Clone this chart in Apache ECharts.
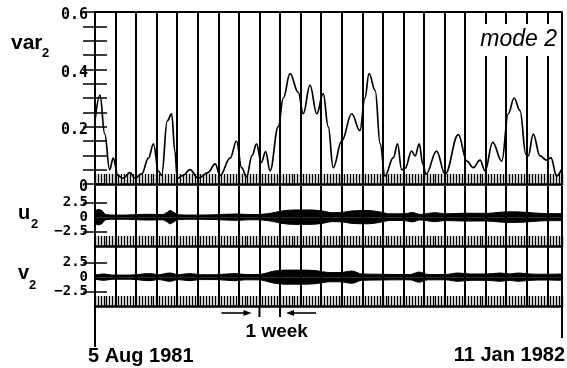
<!DOCTYPE html>
<html>
<head>
<meta charset="utf-8">
<script src="https://cdn.jsdelivr.net/npm/echarts@6/dist/echarts.min.js"></script>
<style>
  html, body { margin: 0; padding: 0; background: #fff; }
  #chart { width: 567px; height: 368px; }
</style>
</head>
<body>
<div id="chart"></div>
<script>
// Time axis in days after 5 Aug 1981 (day 0) up to 11 Jan 1982 (day 159)
const spanDays = 159;
const weekDays = 7;
const startLabel = '5 Aug 1981';
const endLabel = '11 Jan 1982';
const weekMarkStart = 56;
const weekMarkEnd = 63;

// Variance of mode 2
const varDays = [0, 1.7, 3.3, 5.0, 6.2, 7.8, 9.5, 11.9, 13.6, 15.9, 18.2, 19.9, 21.6, 22.7, 24.6, 26.1, 27.2, 28.0, 30.0, 32.3,
  35.2, 38.5, 40.9, 42.6, 46.0, 48.2, 49.9, 51.6, 53.5, 55.0, 56.6, 58.1, 59.6, 62.4, 64.1, 66.4, 69.2, 70.9, 73.2, 75.5,
  77.7, 79.4, 81.1, 84.0, 87.4, 90.2, 91.9, 93.3, 95.4, 97.1, 98.7, 101.6, 103.0, 104.4, 105.6, 107.8, 109.0, 110.4, 111.6, 112.7,
  116.3, 119.2, 123.7, 126.6, 128.8, 131.1, 132.8, 135.4, 138.5, 140.7, 142.7, 144.7, 146.7, 147.5, 149.2, 151.5, 153.8, 155.2, 157.2, 158.8];
const varValues = [0.22, 0.31, 0.175, 0.05, 0.09, 0.03, 0.02, 0.04, 0.02, 0.035, 0.09, 0.14, 0.045, 0.03, 0.22, 0.245, 0.115, 0.02, 0.03, 0.05,
  0.02, 0.04, 0.07, 0.03, 0.09, 0.15, 0.057, 0.025, 0.1, 0.14, 0.075, 0.113, 0.046, 0.2, 0.30, 0.385, 0.32, 0.245, 0.345, 0.245,
  0.315, 0.2, 0.057, 0.15, 0.245, 0.186, 0.30, 0.385, 0.326, 0.14, 0.028, 0.092, 0.14, 0.05, 0.055, 0.115, 0.098, 0.14, 0.07, 0.034,
  0.115, 0.034, 0.172, 0.08, 0.057, 0.083, 0.046, 0.145, 0.08, 0.245, 0.30, 0.256, 0.104, 0.098, 0.174, 0.098, 0.083, 0.092, 0.028, 0.05];

// Envelope half-width of u2
const uDays = [0, 1, 2.4, 3.7, 6.8, 10.2, 14.3, 18.7, 22.8, 24.5, 25.5, 26.9, 28.3, 34, 40.9, 48.3, 52.8, 56.9, 60.3, 63.7,
  68.1, 73.2, 77.3, 80.7, 84.1, 87.5, 93, 97, 100.4, 105.5, 107.9, 110.7, 115.8, 119.2, 126, 133.5, 137.9, 142, 146.4, 151.5, 159];
const uAmp = [0.95, 1.35, 1.1, 0.45, 0.36, 0.36, 0.45, 0.5, 0.45, 0.8, 1.15, 0.8, 0.42, 0.36, 0.42, 0.55, 0.45, 0.5, 0.72, 1.08,
  1.25, 1.25, 1.08, 0.78, 0.82, 1.08, 1.15, 0.9, 0.58, 0.58, 0.82, 0.48, 0.78, 0.58, 0.68, 0.66, 0.85, 0.92, 0.85, 0.66, 0.6];

// Envelope half-width of v2
const vDays = [0, 3.1, 5.8, 11.9, 18.7, 21.5, 25.5, 28.3, 32.3, 35.8, 40.9, 47.7, 51.1, 55.5, 57.9, 60.3, 64.7, 69.8, 74.9, 80,
  83.4, 87.5, 90.9, 97, 103.8, 107.3, 110.3, 113.4, 119.2, 123.6, 127.7, 133.5, 137.9, 141.3, 144, 148.1, 153.2, 159];
const vAmp = [0.36, 0.55, 0.36, 0.36, 0.62, 0.42, 0.72, 0.42, 0.62, 0.42, 0.42, 0.62, 0.46, 0.46, 0.64, 0.98, 1.22, 1.22, 1.14, 0.8,
  0.8, 1.06, 0.55, 0.5, 0.46, 0.46, 0.88, 0.46, 0.46, 0.72, 0.55, 0.55, 0.72, 0.55, 0.72, 0.55, 0.5, 0.55];

// Tick labels
const varTickLabels = [0, 0.2, 0.4, 0.6];
const varTickStep = 0.05;
const uvTickLabels = [-2.5, 0, 2.5];
const uvTickMarks = [-2.5, 2.5];

const INK = '#000';
const monoFamily = '"DejaVu Sans Mono", monospace';
const varTickFont = { fontFamily: monoFamily, fontWeight: 'bold', fontSize: 15, color: INK };
const uvTickFont = { fontFamily: monoFamily, fontWeight: 'bold', fontSize: 14, color: INK };
const labelFont = '"Liberation Sans", Arial, sans-serif';

const chart = echarts.init(document.getElementById('chart'), null, { renderer: 'canvas' });

const grids = [
  { left: 95, top: 12, width: 467, height: 172 },
  { left: 95, top: 186, width: 467, height: 60 },
  { left: 95, top: 246, width: 467, height: 60 }
];

// two x axes per panel: daily hatch ticks along the bottom, weekly lines across
const xAxes = [];
grids.forEach((g, i) => {
  xAxes.push({
    gridIndex: i, type: 'value', min: 0, max: spanDays, interval: 1, position: 'bottom',
    axisLine: { show: true, onZero: false, lineStyle: { color: INK, width: 2.5 } },
    axisTick: { show: true, inside: true, length: 10, lineStyle: { color: INK, width: 1.4 } },
    axisLabel: { show: false }, splitLine: { show: false }
  });
  xAxes.push({
    gridIndex: i, type: 'value', min: 0, max: spanDays, interval: weekDays, position: 'top',
    axisLine: { show: i === 0, onZero: false, lineStyle: { color: INK, width: 2 } },
    axisTick: { show: false }, axisLabel: { show: false },
    splitLine: { show: true, lineStyle: { color: INK, width: 2 } }
  });
});

const near = (a, b) => Math.abs(a - b) < 1e-6;
const fmtVar = v => {
  const hit = varTickLabels.find(t => near(t, v));
  return hit === undefined ? '' : '{t|' + (hit === 0 ? '0' : hit.toFixed(1)) + '}';
};
const fmtUV = v => (near(v, 0) ? '0' : (v < 0 ? '\u2212' + Math.abs(v).toFixed(1) : v.toFixed(1)));

const yAxes = [
  {
    gridIndex: 0, type: 'value', min: 0, max: 0.6, interval: varTickStep, position: 'left',
    axisLine: { show: true, lineStyle: { color: INK, width: 2 } },
    axisTick: { show: true, inside: true, length: 12, lineStyle: { color: INK, width: 1.5 } },
    axisLabel: Object.assign({
      margin: 7, formatter: fmtVar,
      rich: { t: Object.assign({ padding: [7, 0, 0, 0] }, varTickFont) }
    }, varTickFont),
    splitLine: { show: false }
  },
  {
    gridIndex: 0, type: 'value', min: 0, max: 0.6, interval: varTickStep, position: 'right',
    axisLine: { show: true, lineStyle: { color: INK, width: 2 } },
    axisTick: { show: true, inside: true, length: 12, lineStyle: { color: INK, width: 1.5 } },
    axisLabel: { show: false }, splitLine: { show: false }
  }
];
[1, 2].forEach(i => {
  yAxes.push({
    gridIndex: i, type: 'value', min: -5, max: 5.4, position: 'left',
    axisLine: { show: true, lineStyle: { color: INK, width: 2 } },
    axisTick: { show: true, inside: true, length: 12, customValues: uvTickMarks, lineStyle: { color: INK, width: 1.5 } },
    axisLabel: Object.assign({ margin: 7, customValues: uvTickLabels, formatter: fmtUV }, uvTickFont),
    splitLine: { show: false }
  });
  yAxes.push({
    gridIndex: i, type: 'value', min: -5, max: 5.4, position: 'right',
    axisLine: { show: true, lineStyle: { color: INK, width: 2 } },
    axisTick: { show: true, inside: true, length: 12, customValues: uvTickMarks, lineStyle: { color: INK, width: 1.5 } },
    axisLabel: { show: false }, splitLine: { show: false }
  });
});

// black band: upper edge +amp and lower edge -amp, each filled to zero
function envelope(days, amp, xIdx, yIdx) {
  const common = {
    type: 'line', xAxisIndex: xIdx, yAxisIndex: yIdx,
    symbol: 'none', smooth: 0.35, silent: true, animation: false,
    lineStyle: { color: INK, width: 1 },
    areaStyle: { color: INK, opacity: 1, origin: 0 }
  };
  return [
    Object.assign({ data: days.map((d, k) => [d, amp[k]]) }, common),
    Object.assign({ data: days.map((d, k) => [d, -amp[k]]) }, common)
  ];
}

const series = [
  {
    type: 'line', xAxisIndex: 0, yAxisIndex: 0, symbol: 'none', smooth: 0.4, smoothMonotone: 'x',
    animation: false, silent: true,
    data: varDays.map((d, k) => [d, varValues[k]]),
    lineStyle: { color: INK, width: 1.7 }
  }
].concat(envelope(uDays, uAmp, 2, 2), envelope(vDays, vAmp, 4, 4));

chart.setOption({
  backgroundColor: '#fff',
  animation: false,
  grid: grids,
  xAxis: xAxes,
  yAxis: yAxes,
  series: series
});

// annotations placed from the axis scales
const px = d => chart.convertToPixel({ xAxisIndex: 4 }, d);
const x0 = px(0), x1 = px(spanDays), xs = px(weekMarkStart), xe = px(weekMarkEnd);
const yBottom = chart.convertToPixel({ yAxisIndex: 4 }, -5);

function txt(text, x, y, size, opts) {
  opts = opts || {};
  return {
    type: 'text', z: 120,
    style: {
      text: text, x: x, y: y,
      font: (opts.style || 'normal') + ' ' + (opts.weight || 'bold') + ' ' + size + 'px ' + labelFont,
      fill: INK,
      align: opts.align || 'left', textAlign: opts.align || 'left',
      verticalAlign: 'middle', textVerticalAlign: 'middle'
    }
  };
}
function seg(xa, ya, xb, yb, w) {
  return { type: 'line', z: 120, shape: { x1: xa, y1: ya, x2: xb, y2: yb }, style: { stroke: INK, lineWidth: w } };
}
function head(tip, y, dir) {
  return { type: 'polygon', z: 120, shape: { points: [[tip, y], [tip - dir * 8, y - 3], [tip - dir * 8, y + 3]] }, style: { fill: INK } };
}

const arrowY = 313;
chart.setOption({
  graphic: [
    // date extent markers
    seg(x0, yBottom, x0, 347, 2),
    seg(x1, yBottom, x1, 338, 2),
    txt(startLabel, x0 - 7, 356, 20),
    txt(endLabel, x1 + 3, 355, 20, { align: 'right' }),
    // one-week scale
    seg(xs, 307, xs, 317, 2),
    seg(xe, 307, xe, 317, 2),
    seg(xs - 38, arrowY, xs - 12, arrowY, 1.6),
    head(xs - 8, arrowY, 1),
    seg(xe + 36, arrowY, xe + 10, arrowY, 1.6),
    head(xe + 6, arrowY, -1),
    txt('1 week', (xs + xe) / 2 + 7, 332, 19, { align: 'center' }),
    // panel title
    { type: 'rect', z: 110, shape: { x: 476, y: 24, width: 84, height: 32 }, style: { fill: '#fff' } },
    txt('mode 2', 557, 39.5, 23, { align: 'right', style: 'italic', weight: 'normal' }),
    // panel names
    txt('var', 11, 43.5, 21),
    txt('2', 42, 53, 13),
    txt('u', 18, 213.5, 20),
    txt('2', 31, 224, 13),
    txt('v', 18, 273.5, 20),
    txt('2', 29, 285, 13)
  ]
});
</script>
</body>
</html>
